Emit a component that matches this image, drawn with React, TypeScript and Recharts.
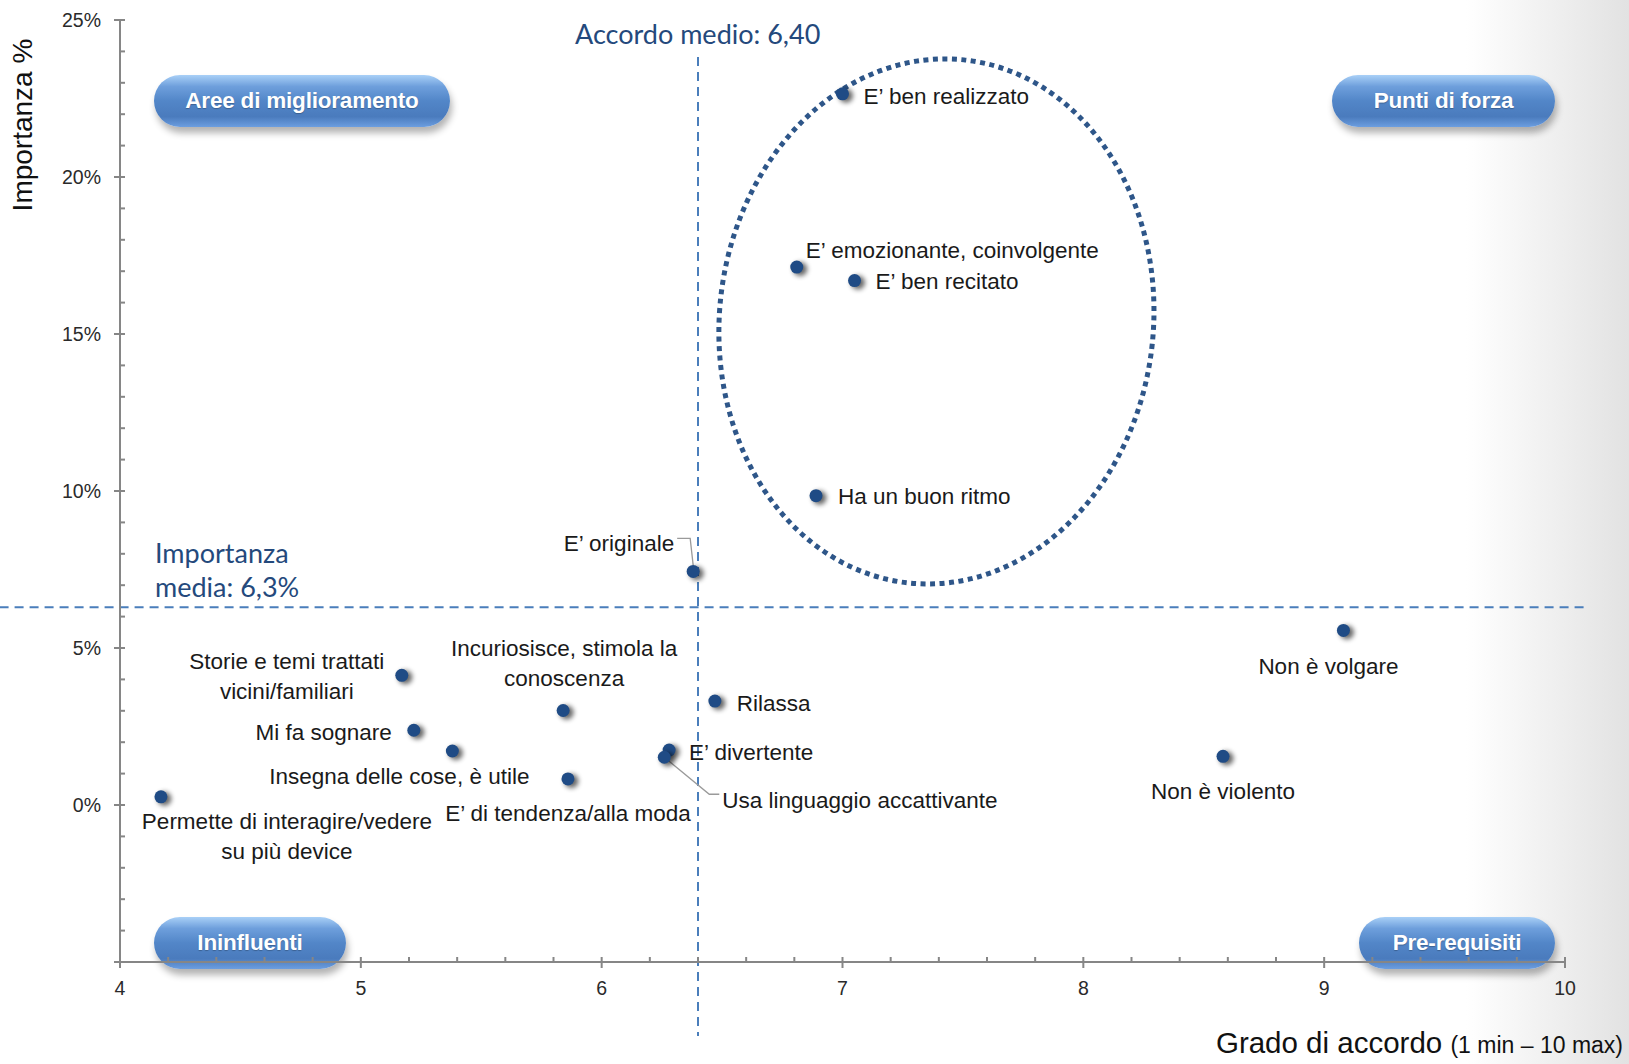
import React from "react";
import {
  ScatterChart,
  Scatter,
  XAxis,
  YAxis,
  ReferenceLine,
  ReferenceDot,
} from "recharts";

// Data: agreement (1-10) vs importance (%)
const NAMES = [
  "E’ ben realizzato",
  "E’ emozionante, coinvolgente",
  "E’ ben recitato",
  "Ha un buon ritmo",
  "E’ originale",
  "Non è volgare",
  "Storie e temi trattati\nvicini/familiari",
  "Incuriosisce, stimola la\nconoscenza",
  "Rilassa",
  "Mi fa sognare",
  "Insegna delle cose, è utile",
  "E’ divertente",
  "Usa linguaggio accattivante",
  "E’ di tendenza/alla moda",
  "Non è violento",
  "Permette di interagire/vedere\nsu più device",
];
const ACCORDO = [7.0, 6.81, 7.05, 6.89, 6.38, 9.08, 5.17, 5.84, 6.47, 5.22, 5.38, 6.28, 6.26, 5.86, 8.58, 4.17];
const IMPORTANZA = [22.65, 17.13, 16.7, 9.85, 7.44, 5.56, 4.13, 3.01, 3.31, 2.38, 1.72, 1.75, 1.52, 0.83, 1.55, 0.26];

const ACCORDO_MEDIO = 6.4;
const IMPORTANZA_MEDIA = 6.3;

const X_MAJOR = [4, 5, 6, 7, 8, 9, 10];
const Y_MAJOR = [-5, 0, 5, 10, 15, 20, 25];

// label placement relative to each dot (px)
const LABEL_POS = [
  { dx: 21, dy: 3, anchor: "start" },
  { dx: 9, dy: -17, anchor: "start" },
  { dx: 21, dy: 1, anchor: "start" },
  { dx: 22, dy: 1, anchor: "start" },
  { dx: -19, dy: -28, anchor: "end", leader: "M-16,-33 L-3,-33 L0,-6" },
  { dx: -15, dy: 36, anchor: "middle" },
  { dx: -115, dy: -14, anchor: "middle" },
  { dx: 1, dy: -62, anchor: "middle" },
  { dx: 22, dy: 2, anchor: "start" },
  { dx: -22, dy: 2, anchor: "end" },
  { dx: -53, dy: 26, anchor: "middle" },
  { dx: 20, dy: 2, anchor: "start" },
  { dx: 58, dy: 43, anchor: "start", leader: "M0,0 L45,37 L55,37" },
  { dx: 0, dy: 35, anchor: "middle" },
  { dx: 0, dy: 35, anchor: "middle" },
  { dx: 126, dy: 25, anchor: "middle" },
];

const points = NAMES.map((name, i) => ({ name, x: ACCORDO[i], y: IMPORTANZA[i], idx: i }));

const withMinor = (major: number[], step: number) => {
  const out: number[] = [];
  for (let i = 0; i < major.length - 1; i++) {
    for (let v = major[i]; v < major[i + 1] - 1e-9; v += step) out.push(Math.round(v * 10) / 10);
  }
  out.push(major[major.length - 1]);
  return out;
};
const X_TICKS = withMinor(X_MAJOR, 0.2);
const Y_TICKS = withMinor(Y_MAJOR, 1);

const AXIS = "#868686";
const DOT = "#1f4b85";
const REF = "#4a7ebb";
const NAVY = "#24497c";
const LABEL_FONT = "'Liberation Sans', Arial, sans-serif";

function XTick({ x, y, payload }: any) {
  const v = payload.value;
  const major = X_MAJOR.includes(v);
  return (
    <g>
      <line x1={x} x2={x} y1={y - 5} y2={major ? y + 6 : y} stroke={AXIS} strokeWidth={2} />
      {major && (
        <text x={x} y={y + 26} textAnchor="middle" dominantBaseline="central" fontSize={19.5} fill="#2a2a2a" fontFamily={LABEL_FONT}>
          {v}
        </text>
      )}
    </g>
  );
}

function YTick({ x, y, payload }: any) {
  const v = payload.value;
  const major = Y_MAJOR.includes(v);
  return (
    <g>
      <line x1={major ? x - 6 : x} x2={x + 5} y1={y} y2={y} stroke={AXIS} strokeWidth={2} />
      {major && v >= 0 && (
        <text x={x - 19} y={y} textAnchor="end" dominantBaseline="central" fontSize={19.5} fill="#2a2a2a" fontFamily={LABEL_FONT}>
          {v}%
        </text>
      )}
    </g>
  );
}

function Dot(props: any) {
  const { cx, cy, payload } = props;
  const pos = LABEL_POS[payload.idx];
  const lines = String(payload.name).split("\n");
  return (
    <g>
      <defs>
        <filter id="dotShadow" x="-100%" y="-100%" width="300%" height="300%">
          <feGaussianBlur stdDeviation="2.4" />
        </filter>
      </defs>
      {pos.leader && (
        <path d={pos.leader} transform={`translate(${cx},${cy})`} fill="none" stroke="#9a9a9a" strokeWidth={1.3} />
      )}
      <circle cx={cx + 3.5} cy={cy + 2} r={7} fill="#000" opacity={0.6} filter="url(#dotShadow)" />
      <circle cx={cx} cy={cy} r={6.5} fill={DOT} />
      <text
        x={cx + pos.dx}
        y={cy + pos.dy}
        textAnchor={pos.anchor}
        fontSize={22.5}
        fill="#1a1a1a"
        fontFamily={LABEL_FONT}
      >
        {lines.map((l, i) => (
          <tspan key={i} x={cx + pos.dx} dy={i === 0 ? 0 : 30} dominantBaseline="central">
            {l}
          </tspan>
        ))}
      </text>
    </g>
  );
}

function Ellipse({ cx, cy }: any) {
  return (
    <ellipse
      cx={cx}
      cy={cy}
      rx={217}
      ry={263}
      transform={`rotate(6 ${cx} ${cy})`}
      fill="none"
      stroke="#2e5689"
      strokeWidth={5}
      strokeDasharray="5 4.5"
    />
  );
}

const pill: React.CSSProperties = {
  position: "absolute",
  height: 52,
  borderRadius: 26,
  background: "linear-gradient(180deg, #a9d0f7 0%, #6e9fdc 22%, #5286c8 50%, #4a7bbd 80%, #6c9ee0 100%)",
  boxShadow: "2px 6px 7px rgba(0,0,0,0.3)",
  color: "#fff",
  fontFamily: LABEL_FONT,
  fontWeight: "bold",
  fontSize: 22.5,
  letterSpacing: -0.2,
  display: "flex",
  alignItems: "center",
  justifyContent: "center",
  textShadow: "0 1px 1px rgba(0,0,0,0.25)",
};

const note: React.CSSProperties = {
  position: "absolute",
  fontFamily: "Lato, 'Open Sans', sans-serif",
  color: NAVY,
  fontSize: 27,
  lineHeight: "34px",
  whiteSpace: "nowrap",
};

export default function App() {
  return (
    <div
      style={{
        position: "absolute",
        left: 0,
        top: 0,
        width: 1629,
        height: 1064,
        overflow: "hidden",
        background: "linear-gradient(90deg, #ffffff 0%, #ffffff 90%, #e2e2e2 100%)",
      }}
    >
      <div style={{ ...pill, left: 154, top: 75, width: 296 }}>Aree di miglioramento</div>
      <div style={{ ...pill, left: 1332, top: 75, width: 223 }}>Punti di forza</div>
      <div style={{ ...pill, left: 154, top: 917, width: 192 }}>Ininfluenti</div>
      <div style={{ ...pill, left: 1359, top: 917, width: 196 }}>Pre-requisiti</div>

      <div style={{ ...note, left: 575, top: 17 }}>Accordo medio: 6,40</div>
      <div style={{ ...note, left: 155, top: 536 }}>
        Importanza
        <br />
        media: 6,3%
      </div>

      <div
        style={{
          position: "absolute",
          left: 23,
          top: 125,
          transform: "translate(-50%, -50%) rotate(-90deg)",
          fontFamily: LABEL_FONT,
          fontSize: 28,
          color: "#111",
          whiteSpace: "nowrap",
        }}
      >
        Importanza %
      </div>
      <div
        style={{
          position: "absolute",
          right: 6,
          top: 1026,
          lineHeight: "34px",
          fontFamily: LABEL_FONT,
          fontSize: 29.5,
          color: "#111",
          whiteSpace: "nowrap",
        }}
      >
        Grado di accordo <span style={{ fontSize: 23 }}>(1 min – 10 max)</span>
      </div>

      <div style={{ position: "absolute", left: 0, top: 0 }}>
        <ScatterChart width={1629} height={1064} margin={{ top: 20, right: 64, bottom: 0, left: 0 }}>
          <XAxis
            dataKey="x"
            type="number"
            domain={[4, 10]}
            ticks={X_TICKS}
            interval={0}
            height={102}
            tickSize={0}
            tickMargin={0}
            tickLine={false}
            axisLine={{ stroke: AXIS, strokeWidth: 2 }}
            tick={<XTick />}
            allowDataOverflow
          />
          <YAxis
            dataKey="y"
            type="number"
            domain={[-5, 25]}
            ticks={Y_TICKS}
            interval={0}
            width={120}
            tickSize={0}
            tickMargin={0}
            tickLine={false}
            axisLine={{ stroke: AXIS, strokeWidth: 2 }}
            tick={<YTick />}
            allowDataOverflow
          />
          <ReferenceDot x={7.39} y={15.4} ifOverflow="visible" shape={<Ellipse />} />
          <ReferenceLine
            segment={[
              { x: 3.5, y: IMPORTANZA_MEDIA },
              { x: 10.08, y: IMPORTANZA_MEDIA },
            ]}
            ifOverflow="visible"
            stroke={REF}
            strokeWidth={2}
            strokeDasharray="9 6"
          />
          <ReferenceLine
            segment={[
              { x: ACCORDO_MEDIO, y: 23.82 },
              { x: ACCORDO_MEDIO, y: -7.36 },
            ]}
            ifOverflow="visible"
            stroke={REF}
            strokeWidth={2}
            strokeDasharray="9 6"
          />
          <Scatter data={points} shape={<Dot />} isAnimationActive={false} />
        </ScatterChart>
      </div>
    </div>
  );
}
